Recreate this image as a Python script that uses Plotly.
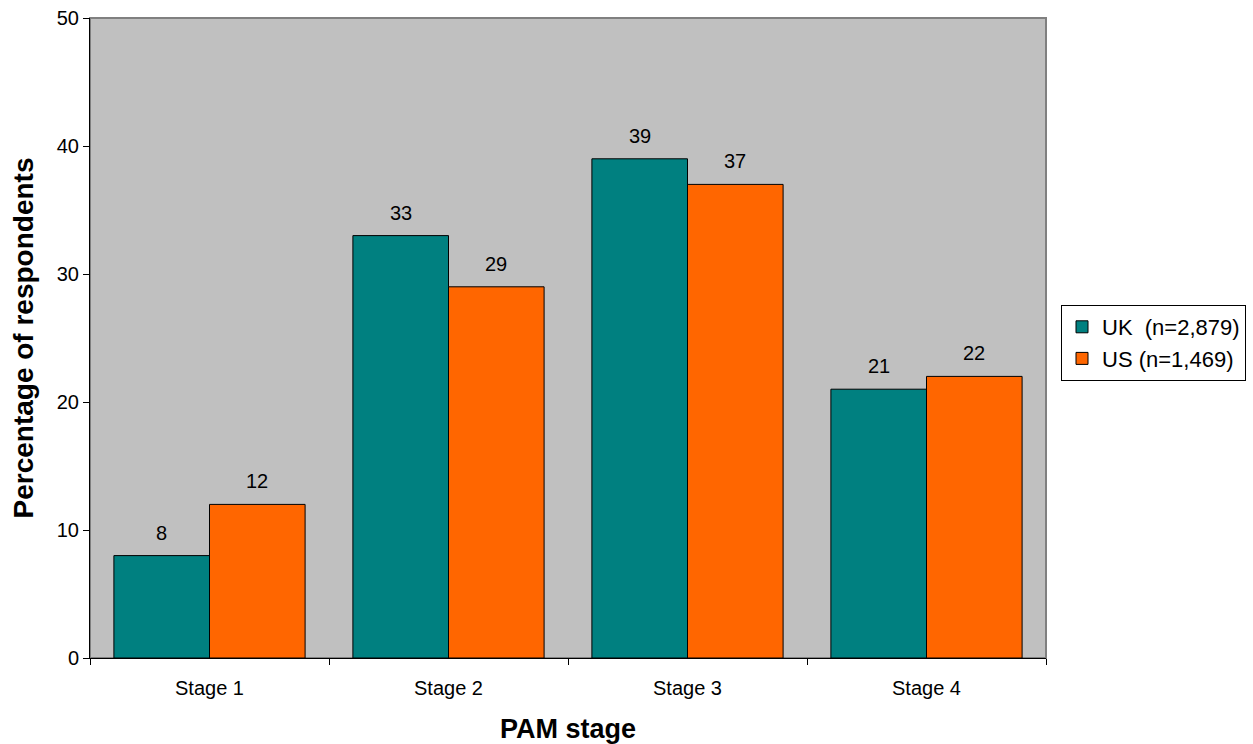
import plotly.graph_objects as go

stages = ["Stage 1", "Stage 2", "Stage 3", "Stage 4"]
uk_values = [8, 33, 39, 21]
us_values = [12, 29, 37, 22]
uk_name = "UK\u00a0 (n=2,879)"
us_name = "US (n=1,469)"

FONT = "Liberation Sans, Arial, sans-serif"

W, H = 1253, 744
M = dict(l=90, r=207, t=18, b=86)
BARGAP = 0.2

fig = go.Figure()
fig.add_trace(go.Bar(
    x=stages, y=uk_values, name=uk_name,
    marker=dict(color="#008080", line=dict(color="black", width=1)),
))
fig.add_trace(go.Bar(
    x=stages, y=us_values, name=us_name,
    marker=dict(color="#FF6600", line=dict(color="black", width=1)),
))

# value labels above each bar, shifted sideways to the bar's slot in the group
plot_w = W - M["l"] - M["r"]
bar_px = plot_w / len(stages) * (1 - BARGAP) / 2
annotations = []
for k, series in enumerate([uk_values, us_values]):
    for cat, val in zip(stages, series):
        annotations.append(dict(
            x=cat, y=val, xref="x", yref="y",
            text=str(val), showarrow=False,
            xanchor="center", yanchor="bottom",
            xshift=(k - 0.5) * bar_px, yshift=10,
            font=dict(family=FONT, size=20, color="black"),
        ))

fig.update_layout(
    width=W, height=H,
    margin=M,
    paper_bgcolor="white",
    plot_bgcolor="#C0C0C0",
    barmode="group",
    bargap=BARGAP,
    bargroupgap=0,
    font=dict(family=FONT, size=20, color="black"),
    showlegend=True,
    legend=dict(
        xref="container", yref="container",
        x=1061 / W, y=1 - 305 / H, xanchor="left", yanchor="top",
        bordercolor="black", borderwidth=1, bgcolor="white",
        font=dict(family=FONT, size=22, color="black"),
        itemwidth=30, tracegroupgap=0,
    ),
    annotations=annotations,
    shapes=[dict(
        type="rect", xref="paper", yref="paper", x0=0, y0=0, x1=1, y1=1,
        line=dict(color="#808080", width=2), layer="below",
    )],
)

fig.update_xaxes(
    type="category",
    tickson="boundaries",
    ticks="outside", ticklen=6, tickcolor="black",
    showline=True, linecolor="black", linewidth=1,
    showgrid=False,
    automargin=False,
    tickfont=dict(family=FONT, size=20),
    ticklabelstandoff=12,
    title=dict(text="<b>PAM stage</b>", font=dict(family=FONT, size=27), standoff=24),
)
fig.update_yaxes(
    range=[0, 50], dtick=10,
    ticks="outside", ticklen=6, tickcolor="black",
    showline=True, linecolor="black", linewidth=1,
    showgrid=False, zeroline=False,
    automargin=False,
    tickfont=dict(family=FONT, size=20),
    title=dict(text="<b>Percentage of respondents</b>", font=dict(family=FONT, size=28), standoff=14),
)

fig.write_html("out.html")
